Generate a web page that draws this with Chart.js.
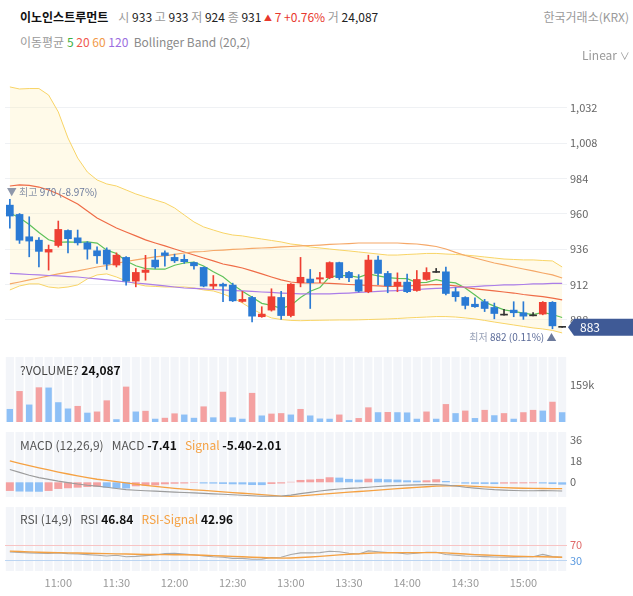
<!DOCTYPE html>
<html><head><meta charset="utf-8">
<script src="https://cdn.jsdelivr.net/npm/chart.js@4.4.0/dist/chart.umd.min.js"></script>
<style>
html,body{margin:0;padding:0;background:#fff;}
body{width:633px;height:596px;position:relative;overflow:hidden;font-family:"Noto Sans CJK KR","Noto Sans",sans-serif;}
.t{position:absolute;white-space:nowrap;font-size:12px;line-height:18px;color:#333;}
.pnl{position:absolute;left:0;width:633px;}
.pnl canvas{display:block;}
.g{color:#9a9a9a}
.v{color:#222}
.b{font-weight:700;color:#111}
</style></head>
<body>
<div class="pnl" style="top:63px;height:294px"><canvas id="cPrice" width="633" height="294"></canvas></div>
<div class="pnl" style="top:345px;height:89px"><canvas id="cVol" width="633" height="89"></canvas></div>
<div class="pnl" style="top:420px;height:89px"><canvas id="cMacd" width="633" height="89"></canvas></div>
<div class="pnl" style="top:495px;height:101px"><canvas id="cRsi" width="633" height="101"></canvas></div>

<div class="t" style="left:20px;top:8px;"><span style="font-weight:700;color:#111;">이노인스트루먼트</span><span class="g" style="margin-left:10px">시</span> <span class="v">933</span> <span class="g">고</span> <span class="v">933</span> <span class="g">저</span> <span class="v">924</span> <span class="g">종</span> <span class="v">931</span> <span style="color:#e8382d"><span style="font-size:8px;vertical-align:1px">▲</span> 7 +0.76%</span> <span class="g">거</span> <span class="v">24,087</span></div>
<div class="t g" style="right:4px;top:8px;">한국거래소(KRX)</div>
<div class="t" style="left:20px;top:33px;"><span class="g">이동평균</span> <span style="color:#3cb043">5</span> <span style="color:#f0584f">20</span> <span style="color:#f29a4a">60</span> <span style="color:#9b6ee0">120</span>&nbsp; <span class="g" style="color:#8a8a8a">Bollinger Band (20,2)</span></div>
<div class="t g" style="left:582px;top:46px;">Linear <span style="font-size:10px">∨</span></div>

<div class="t" style="left:20px;top:361px;"><span style="color:#444">?VOLUME?</span> <span class="b">24,087</span></div>
<div class="t" style="left:20px;top:436px;"><span style="color:#555">MACD (12,26,9)</span>&nbsp;&nbsp; <span style="color:#555">MACD</span> <span class="b">-7.41</span>&nbsp;&nbsp; <span style="color:#f5a142">Signal</span> <span class="b">-5.40-2.01</span></div>
<div class="t" style="left:20px;top:510px;"><span style="color:#555">RSI (14,9)</span>&nbsp;&nbsp; <span style="color:#555">RSI</span> <span class="b">46.84</span>&nbsp;&nbsp; <span style="color:#f5a142">RSI-Signal</span> <span class="b">42.96</span></div>

<script>
// ---------- data ----------
const times = ['10:35','10:40','10:45','10:50','10:55',
'11:00','11:05','11:10','11:15','11:20','11:25','11:30','11:35','11:40','11:45','11:50','11:55',
'12:00','12:05','12:10','12:15','12:20','12:25','12:30','12:35','12:40','12:45','12:50','12:55',
'13:00','13:05','13:10','13:15','13:20','13:25','13:30','13:35','13:40','13:45','13:50','13:55',
'14:00','14:05','14:10','14:15','14:20','14:25','14:30','14:35','14:40','14:45','14:50','14:55',
'15:00','15:05','15:10','15:15','15:20'];

const openP  = [966,959.7,944.5,942.2,934.1,938.6,948.8,943.8,940.4,935,935.5,925.3,930.5,914.4,920.3,928.7,933.6,930.5,929.2,927,923.7,911,912.3,911.7,900.6,903.3,890.2,894.7,903.3,891,913.3,915.8,915.8,916.7,927,920.3,915.3,907.2,928.7,919.6,911.2,913.7,908,915.5,920.3,920.7,907.2,903.3,898.7,900.4,896.5,891.3,894.7,892.9,890.8,892,900,883];
const highP  = [970,960.3,958.1,944,938.9,955.2,949.2,949.1,941.2,937.7,937,933.6,931,923,931.9,936,935,932.7,932.3,927.3,924,918.2,913,913,907.4,904,897,909.2,907.4,912.8,930.5,922.3,920.3,927.5,927.3,921,918.8,932,931.4,921,920,919.2,921.6,923.5,923,924,910,903.8,903,902,899.5,895.2,900.4,900.4,893,900.5,900.5,883];
const lowP   = [950.4,940,930.9,924,921.9,937.5,933.6,938.9,929.3,926.4,922.3,924,911.7,910.5,915,923,924.5,927,926.4,922.5,910.5,909,900.4,900.5,900,886.7,889.8,894,888.4,890,910.5,895.8,913.3,916,915.5,914,907,906.5,912,906.5,907.2,906.5,907.5,915,920.3,905,900.7,895.5,896.5,893.7,888.8,891.3,890.2,888.4,890.8,891.5,882,883];
const closeP = [958.6,942.2,941.6,934.6,935.9,949.5,943.2,940.4,936.1,931.6,925.9,932,914.4,920.3,921.9,924,931.8,928.2,927.6,924.8,911,912.3,911,901,902,890.6,892,903.8,891,912.3,917,913.3,916.7,927,916.7,916.7,907.6,928.7,919.6,911.2,913.7,907.2,915.5,920.3,920.3,906,903.8,897.9,897,895.8,892.4,891.3,892.9,890.6,890.8,900,884,883];

const ma5   = [960.7,957.5,952.8,947.4,942.5,940.7,941.0,940.7,941.0,940.2,935.4,933.2,928.0,924.8,922.9,922.5,922.5,925.2,926.7,927.3,924.7,920.8,917.3,912.0,907.5,903.4,899.3,897.9,895.9,897.9,903.2,907.5,910.1,917.3,918.1,918.1,916.9,919.3,917.9,916.8,916.2,916.1,913.4,913.6,915.4,913.9,913.2,909.7,905.0,900.1,897.4,894.9,893.9,892.6,891.6,893.1,891.7,889.7];
const ma20  = [979.0,979.7,979.4,978.3,976.3,973.6,970.2,966.8,962.0,957.3,953.9,950.5,947.8,945.1,942.4,940.3,938.3,936.2,934.2,932.1,930.1,928.1,926.0,924.7,923.3,921.3,919.3,917.2,915.2,913.8,913.1,913.1,913.1,912.8,912.5,912.1,911.8,911.4,911.1,910.8,910.8,911.1,911.4,911.8,912.1,911.8,911.1,910.1,909.1,908.4,907.7,907.0,906.3,905.3,904.6,903.9,902.9,901.6];
const ma60  = [912.5,913.8,915.2,916.5,917.9,919.3,920.3,921.3,922.6,924.0,925.0,926.4,927.7,928.8,929.8,930.8,931.5,932.5,933.5,934.2,934.5,935.2,935.5,935.9,936.2,936.6,936.9,937.2,937.6,937.9,938.3,938.6,938.9,939.3,939.6,939.9,940.3,940.3,940.3,940.3,940.3,939.9,939.6,938.9,937.9,936.2,933.9,931.8,930.1,928.4,926.7,925.4,924.0,922.6,921.3,919.9,918.6,916.5];
const ma120 = [919.6,919.3,918.9,918.6,918.2,917.9,917.5,917.2,916.5,915.9,915.2,914.5,913.8,913.1,912.5,911.8,911.1,910.4,909.7,909.4,909.1,908.7,908.4,908.0,907.7,907.4,907.0,906.7,906.3,906.0,905.7,905.7,905.7,905.7,906.0,906.3,906.7,907.0,907.4,907.7,908.0,908.4,908.7,909.1,909.4,909.7,910.1,910.4,910.7,911.1,911.4,911.8,911.8,912.1,912.5,912.5,912.8,912.8];
const bbUpper = [1046.3,1044.9,1045.2,1045.2,1040.8,1029.3,1011.6,998.0,988.5,983.1,980.4,979.0,976.3,973.6,971.5,969.5,967.5,964.1,959.3,954.6,951.2,949.1,947.1,945.7,945.1,944.0,943.0,942.0,941.0,939.6,938.9,937.6,936.9,936.2,935.5,934.9,934.2,933.5,932.8,932.1,932.1,932.5,932.8,933.2,933.2,932.8,932.5,932.1,931.5,930.8,930.1,929.4,929.1,928.8,928.8,928.4,928.1,924.0];
const bbLower = [908.4,911.1,912.5,912.5,910.4,909.7,910.4,911.8,915.9,918.6,919.3,917.2,914.5,912.5,911.1,910.8,910.4,910.4,910.4,909.7,908.4,907.7,905.7,903.0,899.5,895.5,892.1,889.4,888.3,887.7,887.5,887.7,887.8,887.9,888.0,888.0,888.1,888.3,888.5,888.7,889.0,889.4,889.7,890.0,890.3,890.3,890.0,889.4,888.7,887.7,886.6,885.6,884.6,883.6,882.6,881.9,880.9,879.2];

const volume = [56000,133000,75000,149000,148000,85000,58000,69000,40000,45000,93000,12000,152000,45000,48000,14000,18000,37000,32000,18000,67000,20000,130000,20000,14000,125000,28000,36000,38000,32000,56000,28000,15000,14000,32000,8000,17000,63000,42000,43000,42000,41000,14000,45000,14000,77000,38000,49000,17000,52000,29000,38000,14000,42000,52000,49000,87000,42000];

const macdLine   = [11,8.5,6,4,2.5,1,-0.3,-1.5,-2.5,-3.3,-4.3,-5.3,-6.3,-6.8,-7.2,-7.6,-8,-8.4,-8.8,-9.1,-9.5,-9.9,-10.3,-10.7,-11.1,-11.5,-11.9,-12,-11.8,-11,-9.7,-8.6,-7.5,-6.5,-5.8,-5.2,-4.8,-4.2,-3.6,-3.1,-2.7,-2.4,-2.2,-2,-1.9,-2.4,-3.2,-4.2,-5,-5.7,-6.3,-6.7,-7,-7.2,-7.2,-7.1,-7.2,-7.41];
const macdSignal = [18.3,16.3,14.3,12.4,10.6,8.8,7.1,5.5,4,2.6,1.7,0.6,-0.5,-1.6,-2.6,-3.5,-4.4,-5.2,-5.9,-6.5,-7,-7.6,-8.2,-8.8,-9.4,-10,-10.6,-11.2,-11.8,-12,-11.6,-11,-10.3,-9.7,-9.1,-8.5,-7.9,-7.3,-6.7,-6.1,-5.5,-4.9,-4.3,-3.8,-3.3,-3,-2.9,-3.1,-3.5,-3.9,-4.3,-4.6,-4.9,-5.1,-5.25,-5.3,-5.35,-5.4];
const macdHist   = [-7.4,-7.9,-8.0,-8.1,-7.4,-5.7,-5.1,-4.6,-4.0,-3.8,-4.6,-5.1,-5.3,-3.4,-2.9,-2.6,-1.7,-1.2,-1.0,-0.4,-1.0,-1.1,-1.4,-1.7,-1.8,-2.3,-2.4,-1.4,-1.0,0.4,2.0,2.4,2.9,4.3,4.0,2.9,2.3,3.1,3.0,2.6,2.3,1.7,1.4,1.7,2.6,1.1,0.2,-1.1,-1.3,-1.4,-1.5,-1.1,-1.0,-0.9,-0.8,-1.0,-1.5,-2.0];

const rsiLine   = [52,51,50,49,48.5,50,48,47,45.5,44,42,44,40,41,43,44.6,48,49,47,45,42,40,39,36,36,33.6,34,38,38.7,46,50,50,50.5,54,53,49,47,55,53,51,50,47,49,51.4,51.4,46,44,42,41.5,40.5,39.5,39,39,39.5,40,46,40.5,39];
const rsiSignal = [54.5,53.5,52.5,51.5,51,50.5,50,49.5,49,48.5,48,47.5,47,46.5,46,45.7,45.5,45.3,45,44.5,44,43,42,41,40,39,38,37,36.5,37,38,39.5,41,43,45,46.5,47.5,49,50,50.3,50.5,50.5,50.5,50.5,50.5,50,48.5,47,45.5,44.5,43.5,42.5,41.5,41,40.5,40,39.5,39];

const priceTicks  = [888,912,936,960,984,1008,1032];
const volumeTicks = [159000];
const macdTicks   = [0,18,36];
const rsiTicks    = [30,70];

// ---------- styling ----------
const FONT = '"Noto Sans CJK KR","Noto Sans",sans-serif';
Chart.defaults.font.family = FONT;
Chart.defaults.font.size = 11;
const RED='#ee3f33', BLUE='#2a7ad4', DOJI='#333333';
const LRED='#f4a1a1', LBLUE='#8ec0f6';
const Y_W = 66;

function candleColor(i){ return closeP[i]>openP[i]?RED:(closeP[i]<openP[i]?BLUE:DOJI); }

function yAxis(min,max,ticks,fmt,extra){
  return Object.assign({
    position:'right', min:min, max:max,
    afterFit(s){ s.width = Y_W; },
    afterBuildTicks(s){ s.ticks = ticks.map(v=>({value:v})); },
    ticks:{padding:3, color:'#666', font:{size:11}, callback:fmt},
    grid:{display:false, drawTicks:false, tickLength:0},
    border:{display:false}
  }, extra||{});
}
const hiddenX = {display:false, offset:true, grid:{display:false}};
const baseOpts = {
  responsive:false, animation:false, events:[],
  plugins:{legend:{display:false}, tooltip:{enabled:false}},
};
function lineDs(data,color,w,order){
  return {type:'line', data:data, borderColor:color, borderWidth:w, pointRadius:0, fill:false, tension:0, order:order};
}

const stripes = {
  id:'stripes',
  beforeDraw(chart){
    const {ctx, chartArea:a, scales:{x}} = chart;
    const w = (a.right-a.left)/times.length;
    ctx.save(); ctx.fillStyle='#f3f5f9';
    for(let i=0;i<times.length;i++){
      const cx = x.getPixelForValue(i);
      ctx.fillRect(cx-w*0.42, a.top, w*0.84, a.bottom-a.top);
    }
    ctx.restore();
  }
};

const priceDecor = {
  id:'priceDecor',
  afterDatasetsDraw(chart){
    const {ctx, scales:{x,y}} = chart;
    let hi=0, lo=0;
    for(let i=1;i<highP.length;i++){ if(highP[i]>highP[hi]) hi=i; if(lowP[i]<lowP[lo]) lo=i; }
    const last = closeP[closeP.length-1];
    ctx.save();
    ctx.font = '10px '+FONT; ctx.textBaseline='middle';
    // high
    let px = x.getPixelForValue(hi)-3, py = y.getPixelForValue(highP[hi])-7;
    const p1='▼ 최고 ', p2=highP[hi].toLocaleString('en-US')+' ('+((last-highP[hi])/highP[hi]*100).toFixed(2)+'%)';
    ctx.textAlign='left';
    ctx.fillStyle='#8e97aa'; ctx.fillText(p1,px,py);
    ctx.fillStyle='#6c7a9c'; ctx.fillText(p2,px+ctx.measureText(p1).width,py);
    // low
    px = x.getPixelForValue(lo)+4; py = y.getPixelForValue(lowP[lo])+8;
    const q1='최저 ', q2=lowP[lo].toLocaleString('en-US')+' ('+((last-lowP[lo])/lowP[lo]*100).toFixed(2)+'%) ', q3='▲';
    const w3=ctx.measureText(q3).width, w2=ctx.measureText(q2).width, w1=ctx.measureText(q1).width;
    ctx.fillStyle='#6c7a9c'; ctx.fillText(q3,px-w3,py);
    ctx.fillStyle='#5a6a98'; ctx.fillText(q2,px-w3-w2,py);
    ctx.fillStyle='#9aa3b8'; ctx.fillText(q1,px-w3-w2-w1,py);
    ctx.restore();
  },
  afterDraw(chart){
    const {ctx, chartArea:a, scales:{y}} = chart;
    const last = closeP[closeP.length-1];
    const ty = y.getPixelForValue(last);
    const x0 = a.right+1, x1 = x0+6, x2 = chart.width;
    ctx.save();
    ctx.fillStyle='#3f5a96';
    ctx.beginPath(); ctx.moveTo(x0,ty); ctx.lineTo(x1,ty-8.5); ctx.lineTo(x2,ty-8.5); ctx.lineTo(x2,ty+8.5); ctx.lineTo(x1,ty+8.5); ctx.closePath(); ctx.fill();
    ctx.fillStyle='#fff'; ctx.font='12px '+FONT; ctx.textBaseline='middle'; ctx.textAlign='left';
    ctx.fillText(last.toLocaleString('en-US'), x1+6, ty+0.5);
    ctx.restore();
  }
};

// ---------- price chart ----------
new Chart(document.getElementById('cPrice'), {
  type:'bar',
  data:{labels:times, datasets:[
    lineDs(bbUpper,'#f8d466',1,9),
    Object.assign(lineDs(bbLower,'#f8d466',1,9),{fill:'-1', backgroundColor:'rgba(255,238,175,0.28)'}),
    lineDs(ma120,'#ab7de8',1.2,5),
    lineDs(ma60,'#f5a868',1.2,5),
    lineDs(ma20,'#ef6c47',1.2,5),
    lineDs(ma5,'#5fc25a',1.2,5),
    {data:times.map((_,i)=>[lowP[i],highP[i]]), backgroundColor:times.map((_,i)=>candleColor(i)), barThickness:1, grouped:false, order:2},
    {data:times.map((_,i)=>[openP[i],closeP[i]]), backgroundColor:times.map((_,i)=>candleColor(i)), barThickness:7, grouped:false, minBarLength:1, order:1}
  ]},
  options:Object.assign({}, baseOpts, {
    layout:{padding:{left:5,right:0,top:12,bottom:12}},
    scales:{
      x:hiddenX,
      y:yAxis(871.0,1054.4,priceTicks,v=>Number(v).toLocaleString('en-US'),{grid:{display:true,color:'#eff1f4',drawTicks:false,tickLength:0}})
    }
  }),
  plugins:[priceDecor]
});

// ---------- volume chart ----------
new Chart(document.getElementById('cVol'), {
  type:'bar',
  data:{labels:times, datasets:[
    {data:volume, backgroundColor:volume.map((v,i)=> i>0 && v>volume[i-1] ? LRED : LBLUE), barPercentage:0.66, categoryPercentage:1}
  ]},
  options:Object.assign({}, baseOpts, {
    layout:{padding:{left:5,right:0,top:12,bottom:12}},
    scales:{ x:hiddenX, y:yAxis(0,279300,volumeTicks,v=>Math.round(v/1000)+'k') }
  }),
  plugins:[stripes]
});

// ---------- MACD chart ----------
new Chart(document.getElementById('cMacd'), {
  type:'bar',
  data:{labels:times, datasets:[
    lineDs(macdLine,'#9c9c9c',1.1,1),
    lineDs(macdSignal,'#f5a142',1.3,1),
    {data:macdHist, backgroundColor:macdHist.map((v,i)=> i===0 || v>macdHist[i-1] ? LRED : LBLUE), barPercentage:0.82, categoryPercentage:1, order:3}
  ]},
  options:Object.assign({}, baseOpts, {
    layout:{padding:{left:5,right:0,top:12,bottom:12}},
    scales:{ x:hiddenX, y:yAxis(-12.6,43.1,macdTicks,v=>String(v)) }
  }),
  plugins:[stripes]
});

// ---------- RSI chart ----------
new Chart(document.getElementById('cRsi'), {
  type:'line',
  data:{labels:times, datasets:[
    lineDs(rsiLine,'#a9a9a9',1.1,2),
    lineDs(rsiSignal,'#f5a142',1.4,1)
  ]},
  options:Object.assign({}, baseOpts, {
    layout:{padding:{left:5,right:0,top:12,bottom:0}},
    scales:{
      x:{display:true, offset:true, grid:{display:false,drawTicks:false}, border:{display:false},
         afterFit(s){ s.height = 25; },
         ticks:{autoSkip:false, maxRotation:0, minRotation:0, padding:5, color:'#9a9a9a', font:{size:11},
                callback:(v,i)=>{ const t=times[i]; return (t.endsWith(':00')||t.endsWith(':30'))?t:''; }}},
      y:yAxis(3.8,166.8,rsiTicks,v=>String(v),{
        grid:{display:true, drawTicks:false, tickLength:0, color:c=> c.tick && c.tick.value===70 ? '#f7c4c4' : '#bcd5f2'},
        ticks:{padding:3, font:{size:11}, callback:v=>String(v), color:c=> c.tick && c.tick.value===70 ? '#e06a6a' : '#5d9be0'}
      })
    }
  }),
  plugins:[stripes]
});
</script>
</body></html>
